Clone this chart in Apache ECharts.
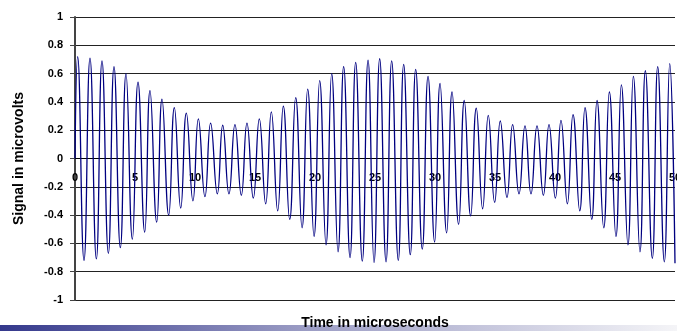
<!DOCTYPE html>
<html>
<head>
<meta charset="utf-8">
<script src="https://cdn.jsdelivr.net/npm/echarts@6/dist/echarts.min.js"></script>
<style>
  html, body { margin: 0; padding: 0; background: #fff; }
  #main { width: 677px; height: 331px; }
</style>
</head>
<body>
<div id="main"></div>
<script>
// extrema (time in microseconds, signal in microvolts)
let peakTimes = [0.22, 1.25, 2.25, 3.25, 4.25, 5.25, 6.25, 7.25, 8.28, 9.28,
  10.28, 11.3, 12.31, 13.33, 14.33, 15.36, 16.36, 17.36, 18.39, 19.39,
  20.39, 21.39, 22.39, 23.39, 24.42, 25.39, 26.39, 27.39, 28.39, 29.42,
  30.42, 31.42, 32.44, 33.44, 34.44, 35.44, 36.47, 37.5, 38.5, 39.5,
  40.5, 41.5, 42.5, 43.5, 44.53, 45.53, 46.53, 47.53, 48.56, 49.56];
let peakValues = [0.72, 0.71, 0.69, 0.65, 0.60, 0.54, 0.48, 0.42, 0.36, 0.32,
  0.28, 0.25, 0.235, 0.24, 0.25, 0.28, 0.33, 0.37, 0.43, 0.49,
  0.55, 0.60, 0.65, 0.68, 0.695, 0.705, 0.69, 0.665, 0.63, 0.58,
  0.53, 0.47, 0.41, 0.355, 0.305, 0.265, 0.24, 0.23, 0.23, 0.24,
  0.27, 0.31, 0.36, 0.41, 0.47, 0.52, 0.58, 0.62, 0.65, 0.67];
let troughTimes = [0.75, 1.78, 2.78, 3.78, 4.78, 5.81, 6.81, 7.81, 8.81, 9.83,
  10.83, 11.86, 12.83, 13.86, 14.86, 15.89, 16.89, 17.89, 18.92, 19.92,
  20.92, 21.92, 22.92, 23.94, 24.92, 25.92, 26.94, 27.94, 28.94, 29.97,
  30.97, 31.97, 32.97, 33.97, 34.97, 36.0, 37.0, 38.0, 39.03, 40.03,
  41.03, 42.06, 43.06, 44.06, 45.08, 46.08, 47.08, 48.11, 49.11];
let troughValues = [-0.72, -0.71, -0.67, -0.63, -0.57, -0.52, -0.45, -0.40, -0.35, -0.30,
  -0.27, -0.25, -0.25, -0.26, -0.28, -0.32, -0.37, -0.43, -0.49, -0.55,
  -0.61, -0.66, -0.70, -0.725, -0.735, -0.73, -0.72, -0.68, -0.64, -0.59,
  -0.525, -0.465, -0.405, -0.355, -0.31, -0.275, -0.25, -0.25, -0.26, -0.28,
  -0.32, -0.37, -0.43, -0.49, -0.55, -0.61, -0.66, -0.705, -0.73];
// where the trace starts and where it is cut off at the right edge
let edgeTimes = [0, 50];
let edgeValues = [0, -0.74];

let points = [];
edgeTimes.forEach((t, i) => points.push([t, edgeValues[i]]));
peakTimes.forEach((t, i) => points.push([t, peakValues[i]]));
troughTimes.forEach((t, i) => points.push([t, troughValues[i]]));
points.sort((a, b) => a[0] - b[0]);

let myChart = echarts.init(document.getElementById('main'));

let font = 'Arial, "Liberation Sans", sans-serif';
let gridTop = 17, gridBottom = 31;
// lift the x axis (line + labels) up to the y = 0 line
let plotHeight = 331 - gridTop - gridBottom;
let zeroOffset = -plotHeight / 2;

let option = {
    animation: false,
    grid: {
        left: 75,
        right: 2,
        top: gridTop,
        bottom: gridBottom,
        outerBoundsMode: 'none'
    },
    xAxis: {
        type: 'value',
        min: 0,
        max: 50,
        interval: 5,
        position: 'bottom',
        offset: zeroOffset,
        axisLine: { onZero: false, lineStyle: { color: '#000', width: 1 } },
        axisTick: { show: false },
        splitLine: { show: false },
        axisLabel: {
            margin: 14,
            color: '#000',
            fontFamily: font,
            fontWeight: 'bold',
            fontSize: 11
        }
    },
    yAxis: {
        type: 'value',
        min: -1,
        max: 1,
        interval: 0.2,
        name: 'Signal in microvolts',
        nameLocation: 'middle',
        nameGap: 49,
        nameTextStyle: {
            color: '#000',
            fontFamily: font,
            fontWeight: 'bold',
            fontSize: 14
        },
        axisLine: { show: true, lineStyle: { color: '#444', width: 2 } },
        axisTick: { show: true, length: 5, lineStyle: { color: '#444' } },
        splitLine: { show: true, lineStyle: { color: '#222', width: 1 } },
        axisLabel: {
            margin: 12,
            color: '#000',
            fontFamily: font,
            fontWeight: 'bold',
            fontSize: 11
        }
    },
    graphic: [
        {
            type: 'rect',
            left: 0,
            top: 325,
            shape: { width: 677, height: 6 },
            style: {
                fill: new echarts.graphic.LinearGradient(0, 0, 1, 0, [
                    { offset: 0, color: '#34388c' },
                    { offset: 0.45, color: '#9b9cc4' },
                    { offset: 1, color: '#f4f4f7' }
                ])
            },
            z: 0
        },
        {
            type: 'text',
            x: 375,
            y: 316,
            style: {
                text: 'Time in microseconds',
                textAlign: 'center',
                fill: '#000',
                font: 'bold 14px ' + font
            },
            z: 10
        }
    ],
    series: [{
        type: 'line',
        data: points,
        smooth: 0.5,
        showSymbol: false,
        lineStyle: { color: '#000080', width: 1.3 },
        itemStyle: { color: '#000080' }
    }]
};

myChart.setOption(option);
</script>
</body>
</html>
